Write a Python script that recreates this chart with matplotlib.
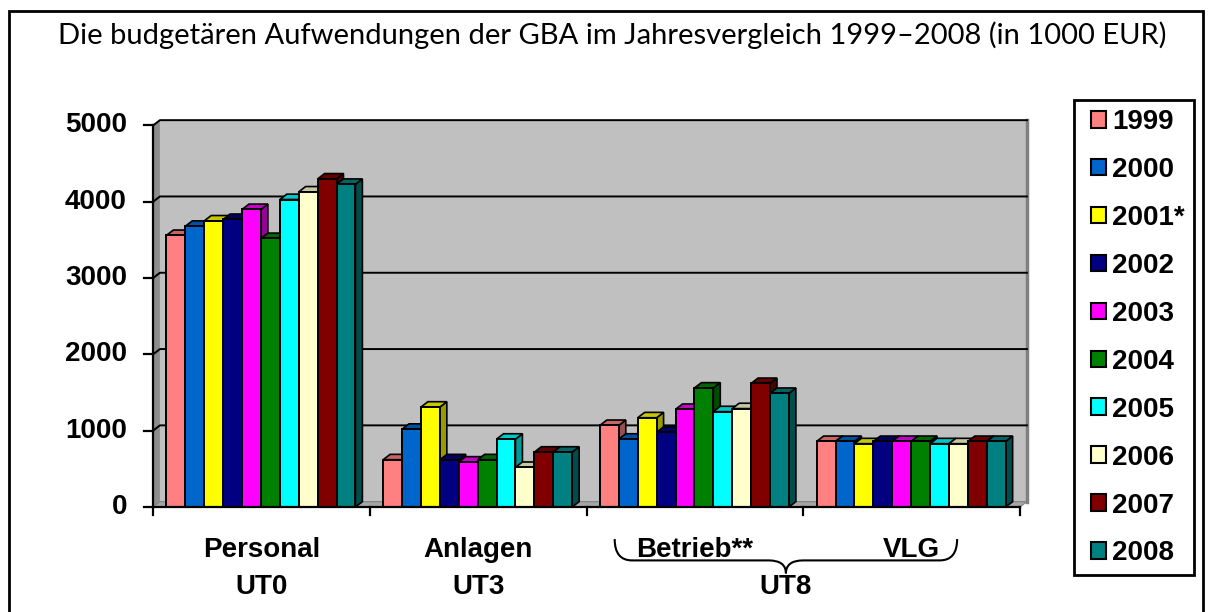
import numpy as np
import matplotlib
matplotlib.use("Agg")
import matplotlib.pyplot as plt
from matplotlib.patches import Polygon, Rectangle, Patch, PathPatch
from matplotlib.path import Path

# data (1000 EUR)
groups = ["Personal", "Anlagen", "Betrieb**", "VLG"]
years = ["1999", "2000", "2001*", "2002", "2003", "2004", "2005", "2006", "2007", "2008"]
personal = [3560, 3680, 3750, 3770, 3900, 3520, 4030, 4130, 4300, 4230]
anlagen = [620, 1020, 1310, 620, 590, 620, 890, 520, 720, 720]
betrieb = [1070, 890, 1170, 980, 1280, 1560, 1250, 1290, 1620, 1490]
vlg = [860, 860, 830, 860, 860, 860, 830, 830, 860, 860]
values = [personal, anlagen, betrieb, vlg]
ut_labels = ["UT0", "UT3", "UT8"]

colors = ["#FF8080", "#0066CC", "#FFFF00", "#000080", "#FF00FF",
          "#008000", "#00FFFF", "#FFFFCC", "#800000", "#008080"]

W, H = 1213, 612
fig = plt.figure(figsize=(W / 100, H / 100), dpi=100)
ax = fig.add_axes([153 / W, (H - 507) / H, 867 / W, 381.5 / H])
ax.set_xlim(0, 4)
ax.set_ylim(0, 5000)
ax.axis("off")

DX, DY = 0.032, 70   # 3d depth offset
wall = "#C0C0C0"

def shade(c, f):
    r, g, b = matplotlib.colors.to_rgb(c)
    return (r * f, g * f, b * f)

# back wall, side wall, floor
ax.add_patch(Polygon([(DX, DY), (4 + DX, DY), (4 + DX, 5000 + DY), (DX, 5000 + DY)],
                     closed=True, fc=wall, ec="none", clip_on=False, zorder=0))
ax.add_patch(Polygon([(0, 0), (DX, DY), (DX, 5000 + DY), (0, 5000)],
                     closed=True, fc="#8C8C8C", ec="none", clip_on=False, zorder=0))
ax.add_patch(Polygon([(0, 0), (4, 0), (4 + DX, DY), (DX, DY)],
                     closed=True, fc="#A6A6A6", ec="#808080", lw=0.8, clip_on=False, zorder=0))
ax.plot([4 + DX, 4 + DX], [DY, 5000 + DY], color="#808080", lw=2.5, clip_on=False, zorder=0.5)
for v in range(1000, 6000, 1000):
    ax.plot([0, DX, 4 + DX], [v, v + DY, v + DY], color="black", lw=1.4,
            clip_on=False, zorder=0.6)

# bars
w = 0.0872
for g, vals in enumerate(values):
    for i, v in enumerate(vals):
        x0 = g + 0.062 + i * w
        c = colors[i]
        side = [(x0 + w, 0), (x0 + w + DX, DY), (x0 + w + DX, v + DY), (x0 + w, v)]
        top = [(x0, v), (x0 + w, v), (x0 + w + DX, v + DY), (x0 + DX, v + DY)]
        ax.add_patch(Polygon(side, closed=True, fc=shade(c, 0.6), ec="black", lw=1.2,
                             clip_on=False, zorder=2))
        ax.add_patch(Polygon(top, closed=True, fc=shade(c, 0.78), ec="black", lw=1.2,
                             clip_on=False, zorder=2))
        ax.add_patch(Rectangle((x0, 0), w, v, fc=c, ec="black", lw=1.4,
                               clip_on=False, zorder=2))

# axes lines and ticks
ax.plot([0, 4], [0, 0], color="black", lw=1.6, clip_on=False, zorder=3)
ax.plot([0, 0], [0, 5000], color="black", lw=1.6, clip_on=False, zorder=3)
cat = dict(family="Liberation Sans", weight="bold", size=20)
for v in range(0, 6000, 1000):
    ax.plot([-0.043, 0], [v, v], color="black", lw=1.6, clip_on=False, zorder=3)
    ax.text(-0.12, v, str(v), ha="right", va="center", **cat)
for g in range(5):
    ax.plot([g, g], [0, -110], color="black", lw=1.6, clip_on=False, zorder=3)
for g, name in enumerate(groups):
    ax.text(g + 0.5, -560, name, ha="center", va="center", **cat)

# brace under Betrieb + VLG
xl, xr = 2.13, 3.71
xc = (xl + xr) / 2
yt, ym, yb = -420, -700, -870
verts = [(xl, yt), (xl, ym), (xl + 0.08, ym), (xc - 0.08, ym), (xc, ym), (xc, yb),
         (xc, ym), (xc + 0.08, ym), (xr - 0.08, ym), (xr, ym), (xr, yt)]
codes = [Path.MOVETO, Path.CURVE3, Path.CURVE3, Path.LINETO, Path.CURVE3, Path.CURVE3,
         Path.CURVE3, Path.CURVE3, Path.LINETO, Path.CURVE3, Path.CURVE3]
ax.add_patch(PathPatch(Path(verts, codes), fc="none", ec="black", lw=1.5, clip_on=False))

for x, lab in zip([0.5, 1.5, xc], ut_labels):
    ax.text(x, -1050, lab, ha="center", va="center", **cat)

# legend (entries placed without frame, box drawn separately)
handles = [Patch(fc=c, ec="black", lw=1.5) for c in colors]
fig.legend(handles, years, loc="upper left",
           bbox_to_anchor=(1091 / W, 1 - 109 / H), frameon=False,
           prop=dict(family="Liberation Sans", weight="bold", size=20),
           labelspacing=0.79, handlelength=0.55, handleheight=0.55,
           handletextpad=0.22, borderpad=0, borderaxespad=0)
fig.add_artist(Rectangle((1074 / W, 1 - 575 / H), 120 / W, 475 / H,
                         transform=fig.transFigure, fill=False, ec="black", lw=2))

# title and outer frame
fig.text(612 / W, 1 - 35 / H,
         "Die budgetären Aufwendungen der GBA im Jahresvergleich 1999–2008 (in 1000 EUR)",
         ha="center", va="center", family="Lato", size=21)
fig.add_artist(Rectangle((9 / W, -0.1), 1194 / W, 1.1 - 11 / H, transform=fig.transFigure,
                         fill=False, ec="black", lw=2))

fig.savefig("out.png", dpi=100)
